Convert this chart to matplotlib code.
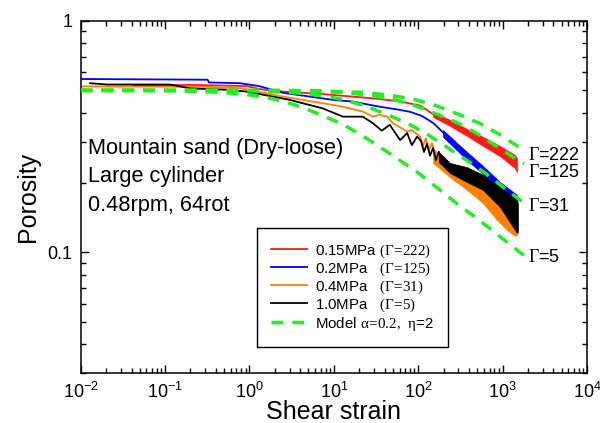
import matplotlib.pyplot as plt
from matplotlib.ticker import NullFormatter

plt.rcParams['font.family'] = 'Liberation Sans'
plt.rcParams['mathtext.fontset'] = 'custom'
plt.rcParams['mathtext.rm'] = 'Liberation Sans'
plt.rcParams['mathtext.sf'] = 'Liberation Serif'

# ---- measured curves (shear strain, porosity) ----
red_g = [0.042, 0.2, 0.93, 1.3, 2.5, 6.8, 29, 61, 105, 150, 238, 378, 585, 930, 1400, 1480]
red_p = [0.525, 0.528, 0.522, 0.507, 0.494, 0.483, 0.462, 0.448, 0.430, 0.395, 0.362, 0.329, 0.301, 0.274, 0.247, 0.238]
red_band_g = [150, 238, 378, 585, 930, 1400, 1480]
red_band_hi = [0.404, 0.373, 0.341, 0.315, 0.288, 0.263, 0.255]
red_band_lo = [0.384, 0.351, 0.318, 0.288, 0.260, 0.231, 0.222]

blue_g = [0.01, 0.32, 0.33, 0.77, 1.3, 2.5, 9.8, 17, 35, 56, 80, 110, 150, 197, 258, 339, 446, 569, 708, 930, 1220, 1480]
blue_p = [0.560, 0.556, 0.541, 0.537, 0.522, 0.488, 0.455, 0.447, 0.425, 0.414, 0.404, 0.388, 0.362, 0.329, 0.299, 0.276, 0.250, 0.227, 0.211, 0.195, 0.180, 0.171]
blue_band_g = [197, 378, 585, 930, 1480]
blue_band_hi = [0.337, 0.271, 0.236, 0.201, 0.177]
blue_band_lo = [0.315, 0.250, 0.218, 0.190, 0.165]

orange_g = [0.01, 0.3, 0.77, 2.5, 7.4, 12.8, 22, 29, 35, 43, 50, 74, 84, 105, 114, 123, 134, 145, 150]
orange_p = [0.520, 0.518, 0.511, 0.470, 0.440, 0.425, 0.405, 0.385, 0.392, 0.385, 0.361, 0.332, 0.337, 0.316, 0.288, 0.311, 0.276, 0.296, 0.285]
orange_band_g = [150, 238, 378, 585, 857, 1125, 1400, 1480]
orange_band_hi = [0.280, 0.240, 0.222, 0.201, 0.180, 0.165, 0.155, 0.152]
orange_band_lo = [0.243, 0.211, 0.186, 0.163, 0.138, 0.125, 0.118, 0.118]

black_g = [0.0129, 0.0205, 0.114, 0.2, 0.54, 0.93, 3.0, 7.4, 12.8, 22, 29, 37, 46, 61, 74, 84, 97, 108, 117, 127, 138, 150, 162, 176]
black_p = [0.537, 0.530, 0.530, 0.510, 0.503, 0.494, 0.455, 0.418, 0.385, 0.385, 0.361, 0.335, 0.355, 0.305, 0.327, 0.290, 0.316, 0.302, 0.271, 0.294, 0.261, 0.282, 0.250, 0.271]
black_band_g = [176, 238, 378, 585, 930, 1220, 1480, 1520]
black_band_hi = [0.271, 0.243, 0.233, 0.216, 0.191, 0.178, 0.168, 0.162]
black_band_lo = [0.245, 0.220, 0.201, 0.186, 0.157, 0.135, 0.121, 0.122]

# ---- model curves ----
m5_g = [0.01, 0.05, 0.15, 0.5, 1, 2, 3.5, 5, 7.5, 12.5, 20, 35, 60, 100, 180, 300, 500, 900, 1600, 1800]
m5_p = [0.500, 0.500, 0.498, 0.490, 0.478, 0.458, 0.432, 0.412, 0.388, 0.358, 0.325, 0.285, 0.250, 0.220, 0.186, 0.160, 0.140, 0.118, 0.100, 0.097]
m31_g = [0.01, 0.3, 1, 3.1, 6.2, 12.4, 21.7, 31, 46.5, 77.5, 124, 217, 372, 620, 1116, 1800]
m31_p = [0.500, 0.500, 0.498, 0.490, 0.478, 0.458, 0.432, 0.412, 0.388, 0.358, 0.325, 0.285, 0.250, 0.220, 0.186, 0.163]
m125_g = [0.01, 1.25, 3.75, 12.5, 25, 50, 87.5, 125, 187.5, 312.5, 500, 875, 1500, 1800]
m125_p = [0.500, 0.500, 0.498, 0.490, 0.478, 0.458, 0.432, 0.412, 0.388, 0.358, 0.325, 0.285, 0.250, 0.241]
m222_g = [0.01, 2.2, 6.7, 22, 44, 89, 155, 222, 333, 555, 888, 1554, 1800]
m222_p = [0.500, 0.500, 0.498, 0.490, 0.478, 0.458, 0.432, 0.412, 0.388, 0.358, 0.325, 0.285, 0.278]

gamma_labels = ['222', '125', '31', '5']
gamma_label_y = [0.262, 0.221, 0.158, 0.095]

x_ticks = [1e-2, 1e-1, 1e0, 1e1, 1e2, 1e3, 1e4]
x_ticklabels = ['$10^{-2}$', '$10^{-1}$', '$10^{0}$', '$10^{1}$', '$10^{2}$', '$10^{3}$', '$10^{4}$']

fig = plt.figure(figsize=(6, 4.23), dpi=100)
ax = fig.add_axes([0.1345, 0.1175, 0.8438, 0.8336])

red, blue, orange = '#ff1a1a', '#0000ff', '#ff8000'
green = '#22ee22'

ax.plot(red_g, red_p, color=red, lw=1.3, label='0.15MPa $\\mathsf{(Γ\\!=\\!222)}$')
ax.fill_between(red_band_g, red_band_lo, red_band_hi, color=red, lw=0.5)
ax.plot(blue_g, blue_p, color=blue, lw=1.3, label='0.2MPa   $\\mathsf{(Γ\\!=\\!125)}$')
ax.fill_between(blue_band_g, blue_band_lo, blue_band_hi, color=blue, lw=0.5)
ax.plot(orange_g, orange_p, color=orange, lw=1.3, label='0.4MPa   $\\mathsf{(Γ\\!=\\!31)}$')
ax.fill_between(orange_band_g, orange_band_lo, orange_band_hi, color=orange, lw=0.5)
ax.plot(black_g, black_p, color='black', lw=1.3, label='1.0MPa   $\\mathsf{(Γ\\!=\\!5)}$')
ax.fill_between(black_band_g, black_band_lo, black_band_hi, color='black', lw=0.5)

dash = (0, (3.4, 2.6))
ax.plot(m222_g, m222_p, color=green, lw=2.5, ls=dash, zorder=5, label='Model $\\mathsf{α\\!=\\!0.2,\\ η}$=2')
ax.plot(m125_g, m125_p, color=green, lw=2.5, ls=dash, zorder=5)
ax.plot(m31_g, m31_p, color=green, lw=2.5, ls=dash, zorder=5)
ax.plot(m5_g, m5_p, color=green, lw=2.5, ls=dash, zorder=5)

for lab, yy in zip(gamma_labels, gamma_label_y):
    ax.text(2000, yy, '$\\mathsf{Γ}$=' + lab, fontsize=13, va='center', ha='left')

ax.text(0.0145, 0.557, 'Mountain sand (Dry-loose)\nLarge cylinder\n0.48rpm, 64rot',
        transform=ax.transAxes, fontsize=15.7, va='center', ha='left', linespacing=1.45)

ax.set_xscale('log')
ax.set_yscale('log')
ax.set_xlim(0.01, 1e4)
ax.set_ylim(0.03, 1)
ax.set_xticks(x_ticks, x_ticklabels)
ax.set_yticks([0.1, 1], ['0.1', '1'])
ax.yaxis.set_minor_formatter(NullFormatter())
ax.xaxis.set_minor_formatter(NullFormatter())
ax.tick_params(which='both', direction='in', top=True, right=True, labelsize=13, width=1, pad=6)
ax.tick_params(which='major', length=6)
ax.tick_params(which='minor', length=3.5)
for s in ax.spines.values():
    s.set_linewidth(1.1)

ax.set_xlabel('Shear strain', fontsize=18, labelpad=-1)
ax.set_ylabel('Porosity', fontsize=18, labelpad=5)

leg = ax.legend(loc='upper left', bbox_to_anchor=(0.348, 0.412), borderaxespad=0,
                fontsize=10.8, frameon=True, fancybox=False, edgecolor='black', framealpha=1,
                handlelength=2.4, handletextpad=0.5, labelspacing=0.05, borderpad=0.95)
leg.get_frame().set_linewidth(1.0)

fig.savefig('out.png', dpi=100)
